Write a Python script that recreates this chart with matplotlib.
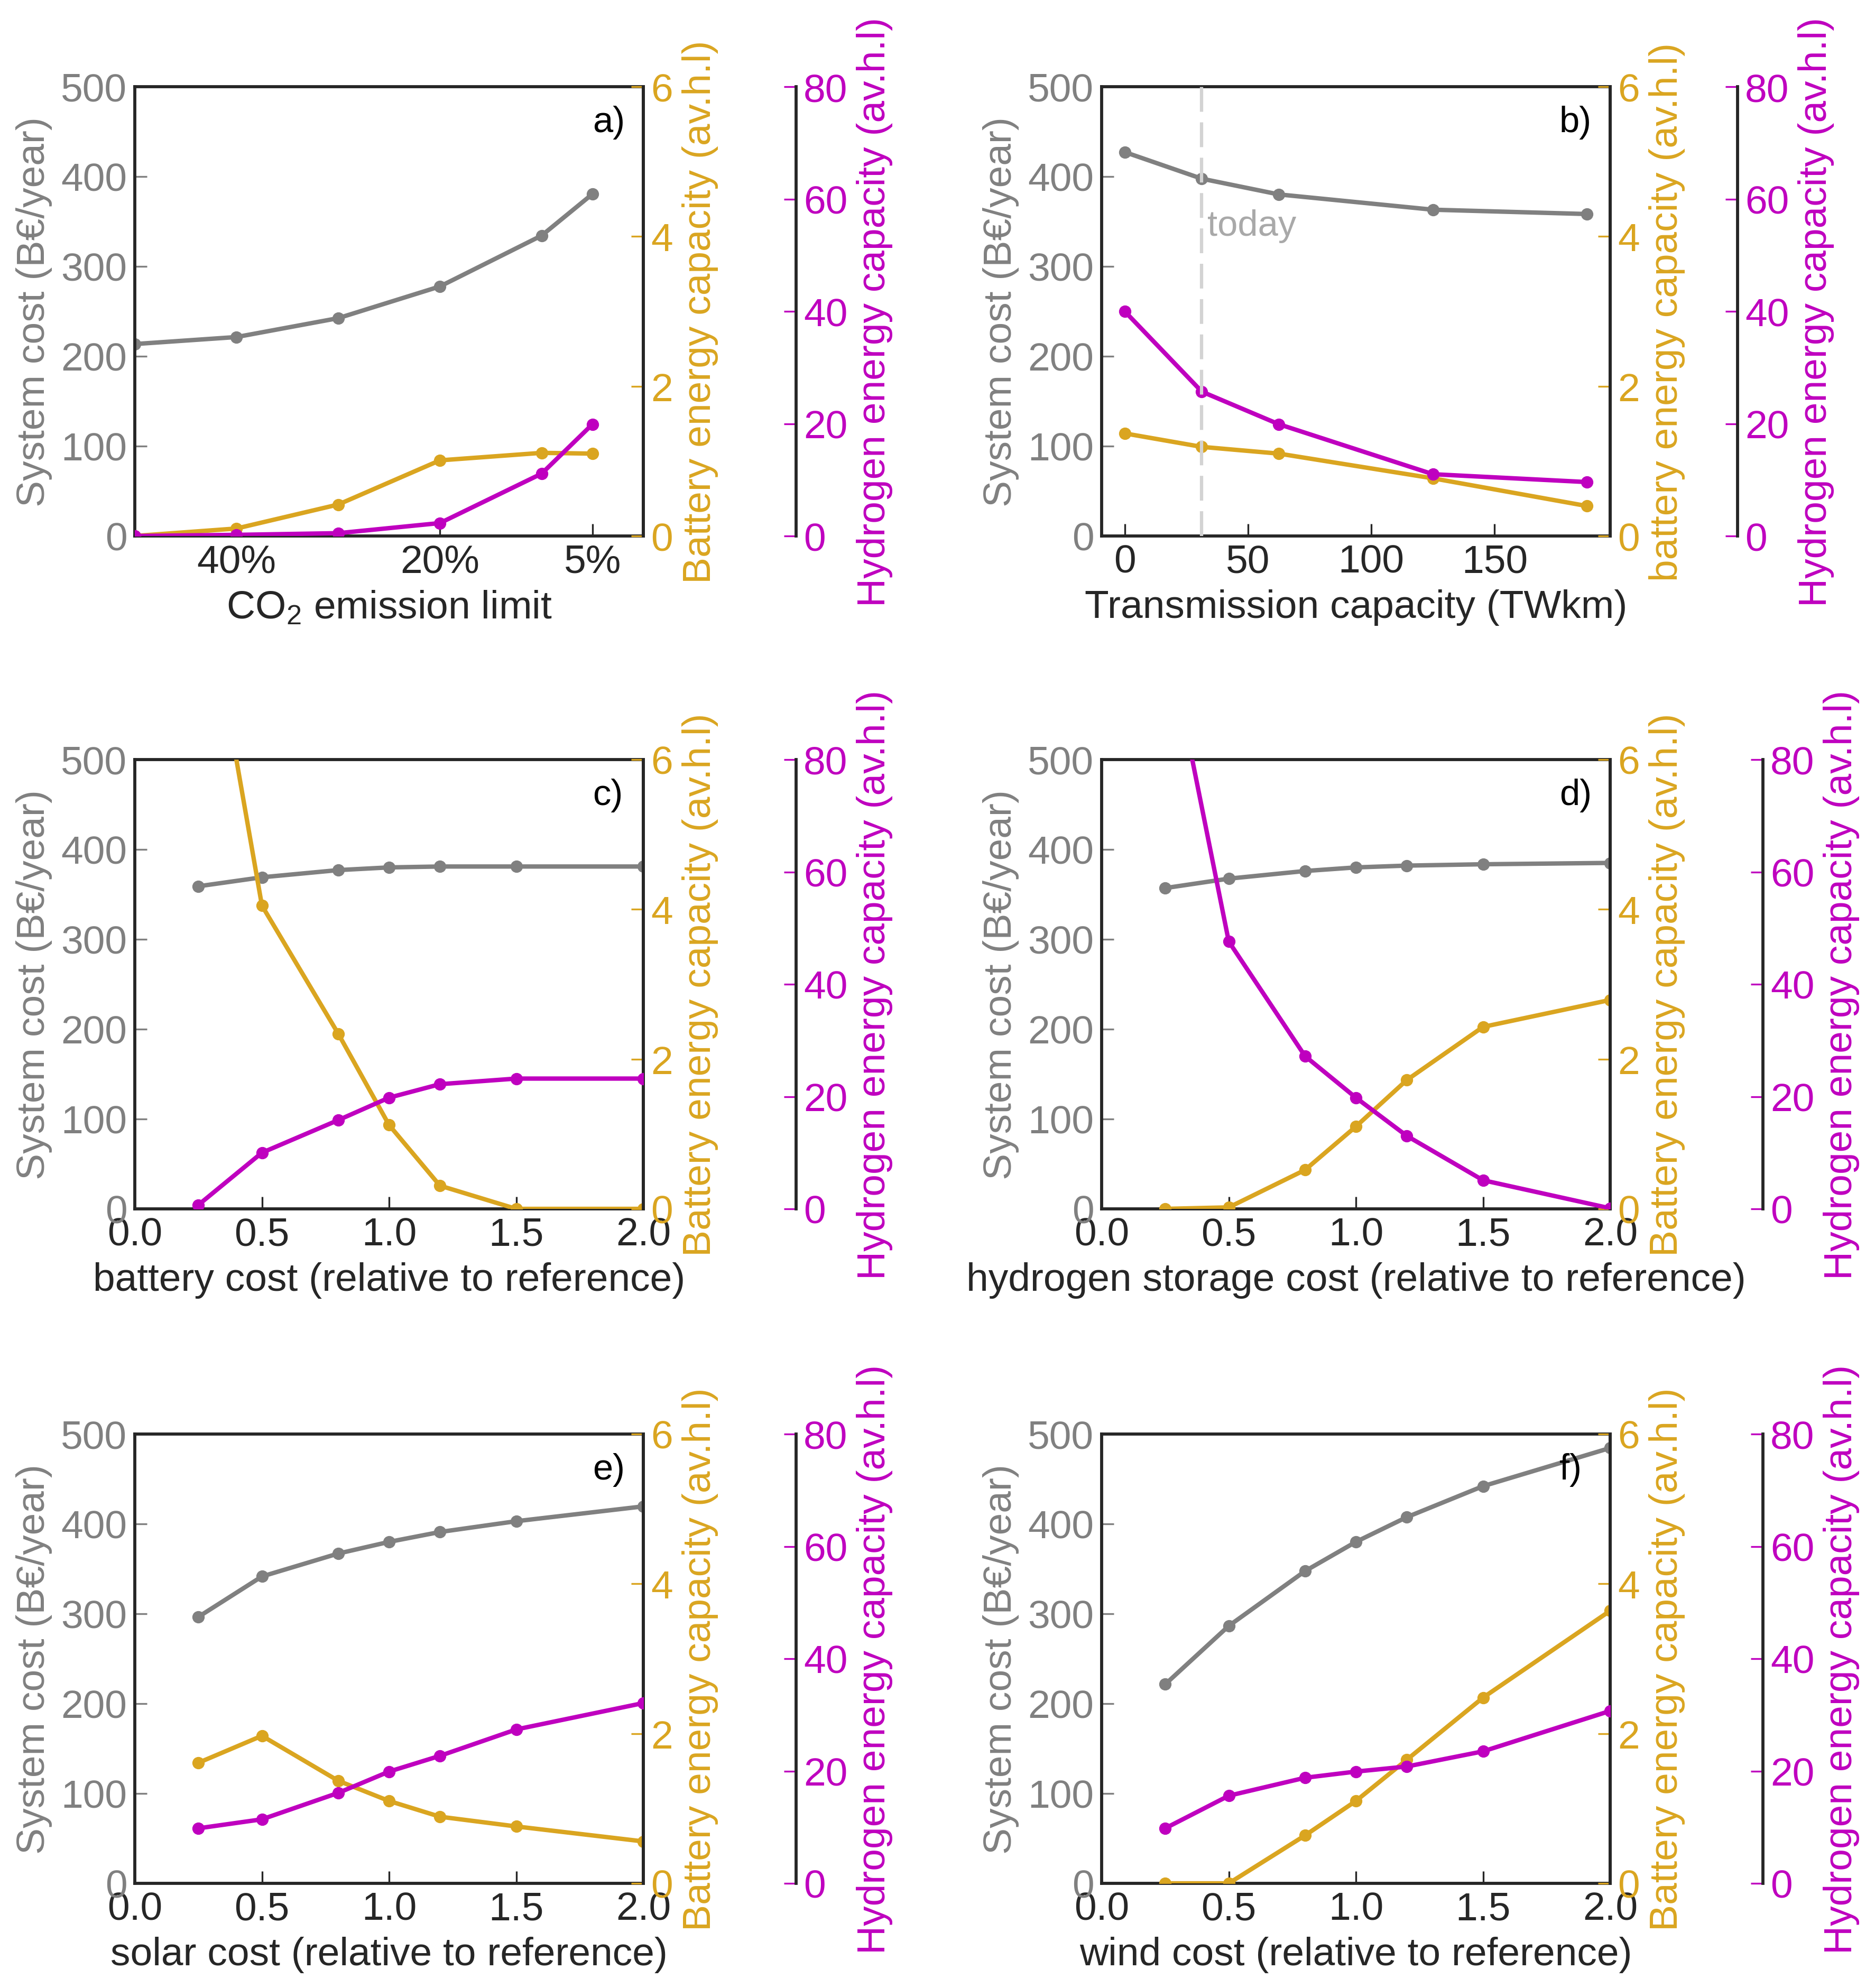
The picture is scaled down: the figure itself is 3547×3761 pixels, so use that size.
import matplotlib
matplotlib.use("Agg")
import matplotlib.pyplot as plt

# ---------------- data ----------------
co2_limit = [50, 40, 30, 20, 10, 5]
co2_cost = [213.6, 221.4, 242.4, 277.7, 334.3, 380.6]
co2_battery = [0.0, 0.10, 0.42, 1.01, 1.11, 1.10]
co2_hydrogen = [0.0, 0.2, 0.5, 2.3, 11.1, 19.9]
co2_ticks = [40, 20, 5]
co2_ticklabels = ["40%", "20%", "5%"]

trans_cap = [0, 31.25, 62.5, 125, 187.5]
trans_cost = [427.2, 397.6, 380.1, 363.1, 358.3]
trans_battery = [1.37, 1.19, 1.10, 0.77, 0.40]
trans_hydrogen = [40.0, 25.7, 19.9, 11.0, 9.6]
trans_ticks = [0, 50, 100, 150]
today_cap = 31.25

rel_cost = [0.25, 0.5, 0.8, 1.0, 1.2, 1.5, 2.0]
rel_ticks = [0.0, 0.5, 1.0, 1.5, 2.0]

batt_sys = [359.0, 369.0, 377.0, 380.0, 381.0, 381.0, 381.0]
batt_battery = [8.9, 4.05, 2.34, 1.12, 0.31, 0.0, 0.0]
batt_hydrogen = [0.7, 10.0, 15.8, 19.8, 22.2, 23.2, 23.2]

h2_sys = [357.0, 367.5, 376.0, 380.0, 382.0, 383.5, 385.0]
h2_battery = [0.0, 0.02, 0.52, 1.10, 1.72, 2.43, 2.79]
h2_hydrogen = [104.0, 47.6, 27.2, 19.8, 13.0, 5.1, 0.1]

solar_sys = [296.5, 341.5, 367.0, 380.0, 391.0, 403.0, 419.5]
solar_battery = [1.61, 1.97, 1.37, 1.10, 0.89, 0.76, 0.56]
solar_hydrogen = [9.8, 11.4, 16.1, 19.9, 22.7, 27.4, 32.1]

wind_sys = [221.5, 286.5, 347.5, 380.0, 407.5, 442.0, 484.5]
wind_battery = [0.0, 0.0, 0.64, 1.10, 1.65, 2.48, 3.64]
wind_hydrogen = [9.8, 15.6, 18.8, 19.9, 20.8, 23.5, 30.7]

cost_ticks = [0, 100, 200, 300, 400, 500]
battery_ticks = [0, 2, 4, 6]
hydrogen_ticks = [0, 20, 40, 60, 80]

# ---------------- style ----------------
DARK = "#262626"
C_COST = "gray"
C_BAT = "goldenrod"
C_H2 = "m"

plt.rcParams.update({
    "font.family": ["Liberation Sans", "DejaVu Sans"],
    "font.size": 18,
    "mathtext.fontset": "custom",
    "mathtext.rm": "Liberation Sans",
    "mathtext.it": "Liberation Sans:italic",
    "mathtext.default": "regular",
    "axes.linewidth": 1.4,
    "axes.edgecolor": DARK,
    "axes.labelcolor": DARK,
    "text.color": DARK,
    "xtick.color": DARK,
    "ytick.color": DARK,
    "xtick.direction": "in",
    "ytick.direction": "in",
    "xtick.major.size": 5.5,
    "ytick.major.size": 5.5,
    "xtick.major.width": 0.8,
    "ytick.major.width": 0.8,
    "xtick.top": False,
    "ytick.right": False,
})

W, H, DPI = 3547, 3762, 300
fig = plt.figure(figsize=(W / DPI, H / DPI), dpi=DPI)

AX_W = 962 / W
AX_H = 850 / H
COL_X = [255 / W, 2084 / W]
ROW_Y = [1 - 1015 / H, 1 - 2288 / H, 1 - 3564 / H]

LW = 2.0
MS = 4.6


def panel(col, row, x, cost, bat, hyd, xlabel, letter, bat_label, hyd_offset,
          xlim, xticks, xticklabels=None):
    ax = fig.add_axes([COL_X[col], ROW_Y[row], AX_W, AX_H])
    ax2 = ax.twinx()
    ax3 = ax.twinx()
    ax3.spines["right"].set_position(("axes", hyd_offset))
    for sp in ["top", "left", "bottom"]:
        ax3.spines[sp].set_visible(False)
        ax2.spines[sp].set_visible(False)
    ax2.spines["right"].set_visible(True)

    ax.plot(x, cost, color=C_COST, marker="o", lw=LW, ms=MS)
    ax2.plot(x, bat, color=C_BAT, marker="o", lw=LW, ms=MS)
    ax3.plot(x, hyd, color=C_H2, marker="o", lw=LW, ms=MS)

    ax.set_xlim(*xlim)
    ax.set_ylim(0, 500)
    ax2.set_ylim(0, 6)
    ax3.set_ylim(0, 80)
    ax.set_yticks(cost_ticks)
    ax2.set_yticks(battery_ticks)
    ax3.set_yticks(hydrogen_ticks)
    ax.set_xticks(xticks)
    if xticklabels is not None:
        ax.set_xticklabels(xticklabels)
    else:
        ax.set_xticklabels([f"{t:.1f}" for t in xticks])

    ax.tick_params(axis="y", colors=C_COST)
    ax2.tick_params(axis="y", colors=C_BAT)
    ax3.tick_params(axis="y", colors=C_H2)

    ax.set_ylabel("System cost (B€/year)", color=C_COST)
    ax2.set_ylabel(bat_label, color=C_BAT)
    ax3.set_ylabel("Hydrogen energy capacity (av.h.l)", color=C_H2)
    ax.set_xlabel(xlabel)

    ax.text(0.9, 0.9, letter, transform=ax.transAxes, fontsize=16.5, color="black")
    return ax, ax2, ax3


panel(0, 0, co2_limit, co2_cost, co2_battery, co2_hydrogen,
      "CO$_2$ emission limit", "a)", "Battery energy capacity (av.h.l)", 1.30,
      (50, 0), co2_ticks, co2_ticklabels)

ax_b, ax_b2, ax_b3 = panel(1, 0, trans_cap, trans_cost, trans_battery, trans_hydrogen,
                           "Transmission capacity (TWkm)", "b)",
                           "battery energy capacity (av.h.l)", 1.25,
                           (-0.05 * 187.5, 1.05 * 187.5), trans_ticks,
                           [str(t) for t in trans_ticks])
ax_b3.axvline(today_cap, color="lightgray", ls=(0, (7.5, 3.2)), lw=1.5, zorder=5)
ax_b.text(today_cap + 2.3, 345, "today", color="darkgray", fontsize=16.5, va="center")

panel(0, 1, rel_cost, batt_sys, batt_battery, batt_hydrogen,
      "battery cost (relative to reference)", "c)", "Battery energy capacity (av.h.l)", 1.30,
      (0, 2), rel_ticks)
panel(1, 1, rel_cost, h2_sys, h2_battery, h2_hydrogen,
      "hydrogen storage cost (relative to reference)", "d)",
      "Battery energy capacity (av.h.l)", 1.30, (0, 2), rel_ticks)
panel(0, 2, rel_cost, solar_sys, solar_battery, solar_hydrogen,
      "solar cost (relative to reference)", "e)", "Battery energy capacity (av.h.l)", 1.30,
      (0, 2), rel_ticks)
panel(1, 2, rel_cost, wind_sys, wind_battery, wind_hydrogen,
      "wind cost (relative to reference)", "f)", "Battery energy capacity (av.h.l)", 1.30,
      (0, 2), rel_ticks)

fig.savefig("out.png", dpi=DPI)
